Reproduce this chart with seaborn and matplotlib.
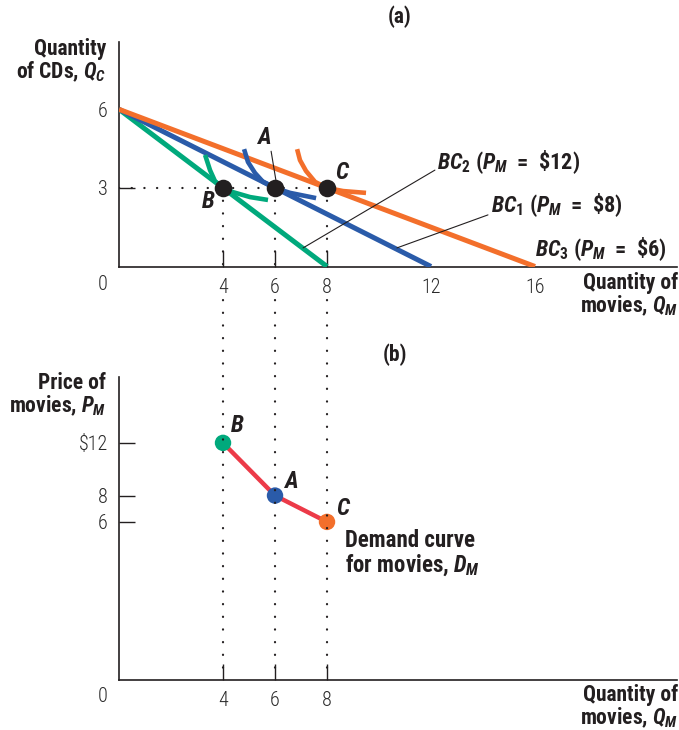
import matplotlib
matplotlib.use("Agg")
import matplotlib.pyplot as plt
from matplotlib.patches import ConnectionPatch
import seaborn as sns
import pandas as pd

# ---------------- data ----------------
# Budget lines: Q_C intercept and Q_M intercepts
qc_intercept = 6
bc_qm_intercepts = {"BC2": 8, "BC1": 12, "BC3": 16}
bc_prices = {"BC2": 12, "BC1": 8, "BC3": 6}

# Optimal baskets
basket_labels = ["B", "A", "C"]
basket_qm = [4, 6, 8]
basket_qc = [3, 3, 3]
basket_price = [12, 8, 6]

# Indifference curves
ic_B_x = [3.31, 3.50, 3.69, 4.00, 4.38, 5.04, 5.73]
ic_B_y = [4.26, 3.68, 3.26, 3.00, 2.84, 2.65, 2.54]
ic_A_x = [4.81, 4.96, 5.23, 5.54, 6.00, 6.58, 7.58]
ic_A_y = [4.48, 3.99, 3.57, 3.23, 3.00, 2.81, 2.61]
ic_C_x = [6.85, 6.96, 7.19, 7.54, 8.00, 8.62, 9.50]
ic_C_y = [4.48, 4.06, 3.65, 3.23, 3.00, 2.88, 2.81]

# tick labels
top_xticks = [4, 6, 8, 12, 16]
top_yticks = [3, 6]
bot_xticks = [4, 6, 8]
bot_yticks = [12, 8, 6]

# ---------------- style ----------------
sns.set_theme(style="white")
FAM = ["Roboto Condensed", "DejaVu Sans"]
plt.rcParams["font.family"] = FAM
plt.rcParams["mathtext.fontset"] = "custom"
plt.rcParams["mathtext.it"] = "Roboto Condensed:italic:bold"
plt.rcParams["mathtext.rm"] = "Roboto Condensed:bold"
plt.rcParams["mathtext.bf"] = "Roboto Condensed:bold"

ORANGE = "#F36F2B"
BLUE = "#2A5BA9"
GREEN = "#00A97C"
RED = "#EC3A48"
DARK = "#231F20"
TICKC = "#2a2a2a"

W, H = 679, 730
fig = plt.figure(figsize=(W / 100, H / 100), dpi=100)


def fx(px):
    return px / W


def fy(py):
    return 1 - py / H


ax1 = fig.add_axes([fx(119), fy(266.5), fx(677) - fx(119), fy(42) - fy(266.5)])
ax2 = fig.add_axes([fx(119), fy(680), fx(677) - fx(119), fy(377) - fy(680)])

for ax in (ax1, ax2):
    sns.despine(ax=ax)
    ax.spines["left"].set_color(DARK)
    ax.spines["bottom"].set_color(DARK)
    ax.spines["left"].set_linewidth(1.2)
    ax.spines["bottom"].set_linewidth(1.2)
    ax.tick_params(direction="in", length=11.5, width=1.0, color=DARK,
                   labelsize=14.5, labelcolor=TICKC, pad=8,
                   left=True, bottom=True)
    ax.set_facecolor("white")

# ---------------- panel (a) ----------------
ax1.set_xlim(0, 21.46)
ax1.set_ylim(0, 8.57)

bc_colors = {"BC2": GREEN, "BC1": BLUE, "BC3": ORANGE}
rows = []
for name, qm in bc_qm_intercepts.items():
    rows.append({"bc": name, "qm": 0, "qc": qc_intercept})
    rows.append({"bc": name, "qm": qm, "qc": 0})
bc_df = pd.DataFrame(rows)
for name in ["BC2", "BC1", "BC3"]:
    sns.lineplot(data=bc_df[bc_df.bc == name], x="qm", y="qc", ax=ax1,
                 color=bc_colors[name], lw=3.6, sort=False, legend=False,
                 solid_capstyle="butt", zorder=3)

for xs, ys, c in [(ic_B_x, ic_B_y, GREEN), (ic_A_x, ic_A_y, BLUE), (ic_C_x, ic_C_y, ORANGE)]:
    sns.lineplot(x=xs, y=ys, ax=ax1, color=c, lw=3.3, sort=False,
                 solid_capstyle="butt", zorder=4)

# dotted horizontal line at Q_C = 3
ax1.plot([0, basket_qm[-1]], [3, 3], color=DARK, lw=1.6,
         linestyle=(0, (0.1, 5.6)), dash_capstyle="round", zorder=2)

sns.scatterplot(x=basket_qm, y=basket_qc, ax=ax1, color=DARK, s=160,
                edgecolor=DARK, linewidth=0, zorder=6)

ax1.set_xticks(top_xticks)
ax1.set_xticklabels([str(v) for v in top_xticks])
ax1.set_yticks(top_yticks)
ax1.set_yticklabels([str(v) for v in top_yticks])
for t, v in zip(ax1.xaxis.get_major_ticks(), top_xticks):
    if v > 8:
        t.tick1line.set_visible(False)
for t, v in zip(ax1.yaxis.get_major_ticks(), top_yticks):
    if v == 6:
        t.tick1line.set_visible(False)
ax1.set_xlabel("")
ax1.set_ylabel("")

# leader lines
ax1.plot([7.08, 12.15], [0.71, 3.68], color=DARK, lw=0.8, zorder=5)
ax1.plot([10.69, 14.19], [0.71, 1.97], color=DARK, lw=0.8, zorder=5)
ax1.plot([5.85, 6.05], [4.4, 3.2], color=DARK, lw=0.8, zorder=5)

lab_kw = dict(fontsize=16, fontweight="bold", color=DARK)
ax1.text(12.23, 4.0, r"$BC_{2}$ ($P_{M}$  =  \$12)", ha="left", va="center", **lab_kw)
ax1.text(14.3, 2.35, r"$BC_{1}$ ($P_{M}$  =  \$8)", ha="left", va="center", **lab_kw)
ax1.text(16.0, 0.68, r"$BC_{3}$ ($P_{M}$  =  \$6)", ha="left", va="center", **lab_kw)
pt_kw = dict(fontsize=17, fontweight="bold", fontstyle="italic", color=DARK, ha="center", va="center")
ax1.text(3.42, 2.50, "B", **pt_kw)
ax1.text(5.58, 4.91, "A", **pt_kw)
ax1.text(8.55, 3.6, "C", **pt_kw)

# ---------------- panel (b) ----------------
ax2.set_xlim(0, 21.46)
ax2.set_ylim(-6, 17)
dem_df = pd.DataFrame({"qm": basket_qm, "price": basket_price, "basket": basket_labels})
sns.lineplot(data=dem_df, x="qm", y="price", ax=ax2, color=RED, lw=3.2,
             sort=False, solid_capstyle="butt", zorder=3)
sns.scatterplot(data=dem_df, x="qm", y="price", hue="basket", ax=ax2,
                palette={"B": GREEN, "A": BLUE, "C": ORANGE}, s=140,
                linewidth=0, legend=False, zorder=5)
ax2.set_xticks(bot_xticks)
ax2.set_xticklabels([str(v) for v in bot_xticks])
ax2.set_yticks(bot_yticks)
ax2.set_yticklabels([r"\$12", "8", "6"])
ax2.set_xlabel("")
ax2.set_ylabel("")
ax2.text(4.55, 13.35, "B", **pt_kw)
ax2.text(6.6, 9.1, "A", **pt_kw)
ax2.text(8.6, 7.0, "C", **pt_kw)
ax2.text(8.7, 5.45, "Demand curve\nfor movies, $D_{M}$", ha="left", va="top",
         fontsize=16.5, fontweight="bold", color=DARK, linespacing=1.0)

for ax in (ax1, ax2):
    for lab in ax.get_xticklabels() + ax.get_yticklabels():
        lab.set_fontweight(300)

# dotted vertical connectors
for q in basket_qm:
    ax1.plot([q, q], [3, 0], color=DARK, lw=1.6,
             linestyle=(0, (0.1, 5.6)), dash_capstyle="round", zorder=2)
    con = ConnectionPatch(xyA=(q, -1.28), coordsA=ax1.transData,
                          xyB=(q, -6), coordsB=ax2.transData,
                          color=DARK, lw=1.6, linestyle=(0, (0.1, 5.6)),
                          capstyle="round", zorder=1)
    fig.add_artist(con)

# ---------------- free text ----------------
big = dict(fontsize=15.5, fontweight="bold", color=DARK)
fig.text(fx(400), fy(17), "(a)", ha="center", va="center", **big)
fig.text(fx(395), fy(355), "(b)", ha="center", va="center", **big)
fig.text(fx(106), fy(61), "Quantity\nof CDs, $Q_{C}$", ha="right", va="center",
         linespacing=1.0, **big)
fig.text(fx(678), fy(295), "Quantity of\nmovies, $Q_{M}$", ha="right", va="center",
         linespacing=1.0, **big)
fig.text(fx(106), fy(395), "Price of\nmovies, $P_{M}$", ha="right", va="center",
         linespacing=1.0, **big)
fig.text(fx(678), fy(707), "Quantity of\nmovies, $Q_{M}$", ha="right", va="center",
         linespacing=1.0, **big)
fig.text(fx(103), fy(285), "0", ha="center", va="center", fontsize=14.5,
         fontweight=300, color=TICKC)
fig.text(fx(103), fy(697), "0", ha="center", va="center", fontsize=14.5,
         fontweight=300, color=TICKC)

fig.savefig("out.png", dpi=100, facecolor="white")
